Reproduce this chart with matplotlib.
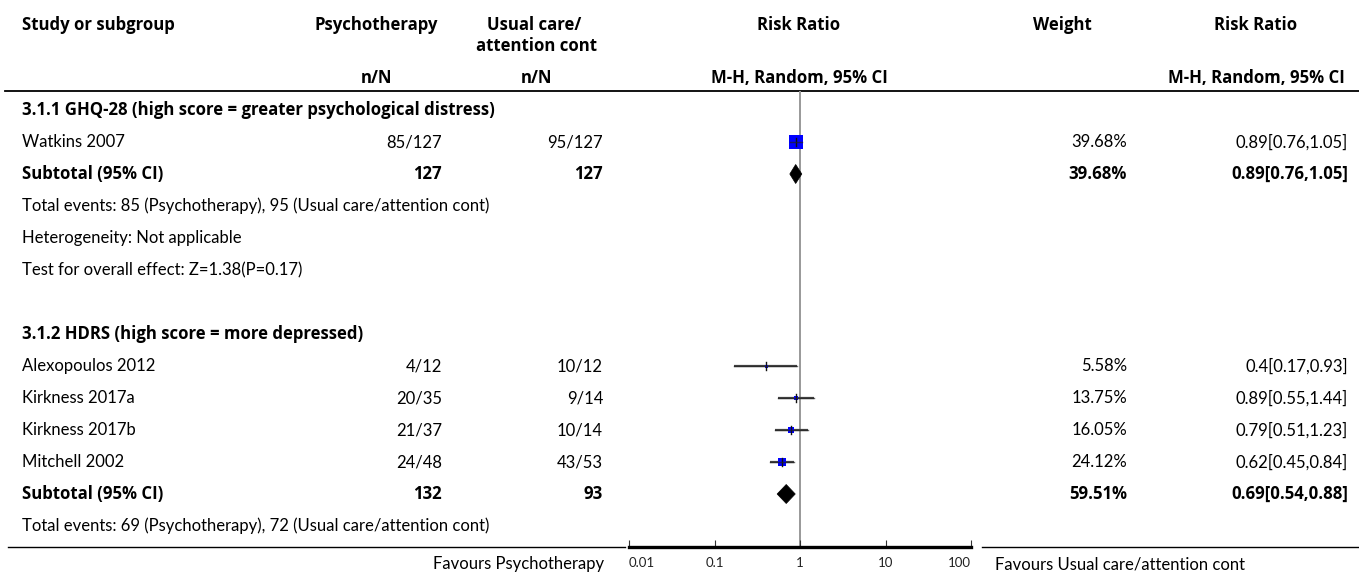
import matplotlib
matplotlib.use("Agg")
import matplotlib.pyplot as plt
from matplotlib.patches import Polygon

plt.rcParams['font.family'] = ['Lato', 'DejaVu Sans']

# ---------------- data ----------------
group_titles = ["3.1.1 GHQ-28 (high score = greater psychological distress)",
                "3.1.2 HDRS (high score = more depressed)"]

g1_studies = ["Watkins 2007"]
g1_treat = ["85/127"]
g1_ctrl = ["95/127"]
g1_rr = [0.89]
g1_lo = [0.76]
g1_hi = [1.05]
g1_weight = [39.68]
g1_sub_n = ["127", "127"]
g1_sub_rr = [0.89, 0.76, 1.05]
g1_sub_weight = 39.68
g1_notes = ["Total events: 85 (Psychotherapy), 95 (Usual care/attention cont)",
            "Heterogeneity: Not applicable",
            "Test for overall effect: Z=1.38(P=0.17)"]

g2_studies = ["Alexopoulos 2012", "Kirkness 2017a", "Kirkness 2017b", "Mitchell 2002"]
g2_treat = ["4/12", "20/35", "21/37", "24/48"]
g2_ctrl = ["10/12", "9/14", "10/14", "43/53"]
g2_rr = [0.4, 0.89, 0.79, 0.62]
g2_lo = [0.17, 0.55, 0.51, 0.45]
g2_hi = [0.93, 1.44, 1.23, 0.84]
g2_weight = [5.58, 13.75, 16.05, 24.12]
g2_sub_n = ["132", "93"]
g2_sub_rr = [0.69, 0.54, 0.88]
g2_sub_weight = 59.51
g2_notes = ["Total events: 69 (Psychotherapy), 72 (Usual care/attention cont)"]

x_ticks = [0.01, 0.1, 1, 10, 100]
x_tick_labels = ["0.01", "0.1", "1", "10", "100"]
favours_left = "Favours Psychotherapy"
favours_right = "Favours Usual care/attention cont"

# ---------------- layout ----------------
W, H = 1359, 574
fig = plt.figure(figsize=(W / 100, H / 100), dpi=100)
bg = fig.add_axes([0, 0, 1, 1])
bg.set_xlim(0, W)
bg.set_ylim(H, 0)
bg.axis('off')

FS = 12.0
BFS = 12.1
BFAM = ['Open Sans', 'DejaVu Sans']
X_STUDY = 22
X_T = 442
X_C = 603
X_RRC = 799
X_W = 1127
X_RR = 1348

# forest axes
AX_L, AX_R = 629, 971
Y_TOP, Y_BOT = 91, 547
fax = fig.add_axes([AX_L / W, 1 - Y_BOT / H, (AX_R - AX_L) / W, (Y_BOT - Y_TOP) / H])
fax.set_xscale('log')
fax.set_xlim(0.01, 100)
fax.set_ylim(Y_BOT, Y_TOP)
fax.patch.set_alpha(0)
for s in ['top', 'left', 'right']:
    fax.spines[s].set_visible(False)
fax.spines['bottom'].set_linewidth(2.4)
fax.set_yticks([])
fax.set_xticks(x_ticks)
fax.set_xticklabels(x_tick_labels)
fax.minorticks_off()
fax.tick_params(axis='x', direction='in', length=5, width=0.8, pad=7,
                labelsize=9.5, labelcolor='#222222', color='#333333')
tl = fax.get_xticklabels()
tl[0].set_horizontalalignment('left')
tl[-1].set_horizontalalignment('right')
fax.axvline(1, color='#999999', lw=1.4, zorder=1)

# headers
hb = dict(fontsize=BFS, fontweight='bold', va='center', family=BFAM)
bg.text(X_STUDY, 25, "Study or subgroup", ha='left', **hb)
bg.text(376, 25, "Psychotherapy", ha='center', **hb)
bg.text(534, 25, "Usual care/", ha='center', **hb)
bg.text(537, 46, "attention cont", ha='center', **hb)
bg.text(X_RRC, 25, "Risk Ratio", ha='center', **hb)
bg.text(1062, 25, "Weight", ha='center', **hb)
bg.text(1256, 25, "Risk Ratio", ha='center', **hb)
bg.text(376, 78, "n/N", ha='center', **hb)
bg.text(537, 78, "n/N", ha='center', **hb)
bg.text(X_RRC, 78, "M-H, Random, 95% CI", ha='center', **hb)
bg.text(1345, 78, "M-H, Random, 95% CI", ha='right', **hb)
bg.plot([5, W], [91, 91], color='black', lw=1.3)

# bottom lines
bg.plot([8, 625], [Y_BOT, Y_BOT], color='black', lw=1.0)
bg.plot([982, W], [Y_BOT, Y_BOT], color='black', lw=1.0)

ROW0 = 110
DY = 32.0


def fmt_ci(r):
    return f"{r[0]:g}[{r[1]:.2f},{r[2]:.2f}]"


def study_row(y, name, t, c, rr, lo, hi, w):
    bg.text(X_STUDY, y, name, ha='left', va='center', fontsize=FS)
    bg.text(X_T, y, t, ha='right', va='center', fontsize=FS)
    bg.text(X_C, y, c, ha='right', va='center', fontsize=FS)
    bg.text(X_W, y, f"{w:.2f}%", ha='right', va='center', fontsize=FS)
    bg.text(X_RR, y, f"{rr:g}[{lo:.2f},{hi:.2f}]", ha='right', va='center', fontsize=FS)
    side = max(3.0, 0.33 * w)
    fax.plot([lo, hi], [y, y], color='#444444', lw=1.6, zorder=2, solid_capstyle='butt')
    fax.plot([rr], [y], marker='s', ms=side * 0.72, color='#0000FF', mec='#0000FF',
             mew=0, ls='none', zorder=3)
    fax.plot([rr, rr], [y - 4, y + 4], color='#111111', lw=1.0, zorder=4)
    fax.plot([lo, hi], [y, y], color='#222222', lw=1.0, zorder=4, alpha=0.7)


def subtotal_row(y, ns, r, w):
    bb = dict(fontsize=BFS, fontweight='bold', va='center', family=BFAM)
    bg.text(X_STUDY, y, "Subtotal (95% CI)", ha='left', **bb)
    bg.text(X_T, y, ns[0], ha='right', **bb)
    bg.text(X_C, y, ns[1], ha='right', **bb)
    bg.text(X_W, y, f"{w:.2f}%", ha='right', **bb)
    bg.text(X_RR, y, fmt_ci(r), ha='right', **bb)
    h = 9.5
    est, lo, hi = r
    fax.add_patch(Polygon([(lo, y), (est, y - h), (hi, y), (est, y + h)],
                          closed=True, facecolor='black', edgecolor='black', lw=0.5, zorder=3))


row = 0
# group 1
bg.text(X_STUDY, ROW0 + row * DY, group_titles[0], ha='left', va='center',
        fontsize=BFS, fontweight='bold', family=BFAM)
row += 1
for i in range(len(g1_studies)):
    study_row(ROW0 + row * DY, g1_studies[i], g1_treat[i], g1_ctrl[i], g1_rr[i], g1_lo[i], g1_hi[i], g1_weight[i])
    row += 1
subtotal_row(ROW0 + row * DY, g1_sub_n, g1_sub_rr, g1_sub_weight)
row += 1
for note in g1_notes:
    bg.text(X_STUDY, ROW0 + row * DY, note, ha='left', va='center', fontsize=FS)
    row += 1
row += 1
# group 2
bg.text(X_STUDY, ROW0 + row * DY, group_titles[1], ha='left', va='center',
        fontsize=BFS, fontweight='bold', family=BFAM)
row += 1
for i in range(len(g2_studies)):
    study_row(ROW0 + row * DY, g2_studies[i], g2_treat[i], g2_ctrl[i], g2_rr[i], g2_lo[i], g2_hi[i], g2_weight[i])
    row += 1
subtotal_row(ROW0 + row * DY, g2_sub_n, g2_sub_rr, g2_sub_weight)
row += 1
for note in g2_notes:
    bg.text(X_STUDY, ROW0 + row * DY, note, ha='left', va='center', fontsize=FS)
    row += 1

bg.text(604, 564, favours_left, ha='right', va='center', fontsize=FS)
bg.text(995, 564, favours_right, ha='left', va='center', fontsize=FS)

fig.savefig("out.png", dpi=100)
